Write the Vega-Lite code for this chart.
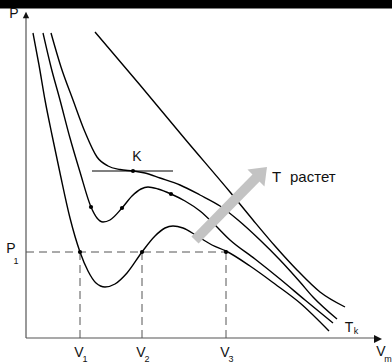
{
  "$schema": "https://vega.github.io/schema/vega-lite/v6.json",
  "width": 392,
  "height": 363,
  "autosize": {"type": "none"},
  "padding": 0,
  "background": "white",
  "config": {"view": {"stroke": null}},
  "datasets": {
    "curves": [
      {"c":"A","o":0,"V":7,"P":305},{"c":"A","o":1,"V":13,"P":273},{"c":"A","o":2,"V":19,"P":238},{"c":"A","o":3,"V":26,"P":203},{"c":"A","o":4,"V":34,"P":165},{"c":"A","o":5,"V":44,"P":120},{"c":"A","o":6,"V":54,"P":86},{"c":"A","o":7,"V":62,"P":67},{"c":"A","o":8,"V":70,"P":55},{"c":"A","o":9,"V":79,"P":51},{"c":"A","o":10,"V":89,"P":54},{"c":"A","o":11,"V":101,"P":65},{"c":"A","o":12,"V":116,"P":86},{"c":"A","o":13,"V":129,"P":102},{"c":"A","o":14,"V":139,"P":110},{"c":"A","o":15,"V":147,"P":112},{"c":"A","o":16,"V":157,"P":110},{"c":"A","o":17,"V":171,"P":102},{"c":"A","o":18,"V":186,"P":93},{"c":"A","o":19,"V":200,"P":87},{"c":"A","o":20,"V":224,"P":72},{"c":"A","o":21,"V":249,"P":54},{"c":"A","o":22,"V":274,"P":35},{"c":"A","o":23,"V":303,"P":7},
      {"c":"B","o":0,"V":17,"P":305},{"c":"B","o":1,"V":25,"P":271},{"c":"B","o":2,"V":34,"P":238},{"c":"B","o":3,"V":44,"P":200},{"c":"B","o":4,"V":54,"P":166},{"c":"B","o":5,"V":65,"P":131},{"c":"B","o":6,"V":71,"P":120},{"c":"B","o":7,"V":77,"P":116},{"c":"B","o":8,"V":84,"P":118},{"c":"B","o":9,"V":96,"P":130},{"c":"B","o":10,"V":106,"P":142},{"c":"B","o":11,"V":115,"P":149},{"c":"B","o":12,"V":122,"P":151},{"c":"B","o":13,"V":132,"P":149},{"c":"B","o":14,"V":145,"P":144},{"c":"B","o":15,"V":159,"P":137},{"c":"B","o":16,"V":174,"P":127},{"c":"B","o":17,"V":189,"P":113},{"c":"B","o":18,"V":204,"P":98},{"c":"B","o":19,"V":229,"P":79},{"c":"B","o":20,"V":254,"P":59},{"c":"B","o":21,"V":279,"P":38},{"c":"B","o":22,"V":307,"P":15},
      {"c":"C","o":0,"V":25,"P":305},{"c":"C","o":1,"V":35,"P":271},{"c":"C","o":2,"V":47,"P":238},{"c":"C","o":3,"V":59,"P":206},{"c":"C","o":4,"V":71,"P":181},{"c":"C","o":5,"V":82,"P":172},{"c":"C","o":6,"V":94,"P":168.5},{"c":"C","o":7,"V":107,"P":167},{"c":"C","o":8,"V":119,"P":165},{"c":"C","o":9,"V":134,"P":160},{"c":"C","o":10,"V":154,"P":153},{"c":"C","o":11,"V":174,"P":143},{"c":"C","o":12,"V":194,"P":132},{"c":"C","o":13,"V":212,"P":118},{"c":"C","o":14,"V":234,"P":98},{"c":"C","o":15,"V":254,"P":78},{"c":"C","o":16,"V":274,"P":56},{"c":"C","o":17,"V":287,"P":41},{"c":"C","o":18,"V":311,"P":19},
      {"c":"D","o":0,"V":69,"P":306},{"c":"D","o":1,"V":114,"P":253},{"c":"D","o":2,"V":159,"P":199},{"c":"D","o":3,"V":204,"P":146},{"c":"D","o":4,"V":227,"P":118},{"c":"D","o":5,"V":249,"P":92},{"c":"D","o":6,"V":271,"P":68},{"c":"D","o":7,"V":294,"P":46},{"c":"D","o":8,"V":319,"P":31}
    ],
    "dashes": [
      {"V":0,"P":86,"V2":200,"P2":86},
      {"V":54,"P":86,"V2":54,"P2":0},
      {"V":116,"P":86,"V2":116,"P2":0},
      {"V":200,"P":86,"V2":200,"P2":0}
    ],
    "axislines": [
      {"V":0,"P":0,"V2":0,"P2":322},
      {"V":0,"P":0,"V2":350,"P2":0}
    ],
    "band": [
      {"V":-26,"P":329.5,"V2":366,"P2":338}
    ],
    "tangent": [
      {"V":66,"P":167,"V2":147,"P2":167}
    ],
    "dots": [
      {"V":54,"P":86},{"V":116,"P":86},{"V":200,"P":86},
      {"V":65,"P":131},{"V":96,"P":130},{"V":145,"P":144},
      {"V":107,"P":167}
    ],
    "shaft": [
      {"V":169,"P":98,"V2":231,"P2":161}
    ],
    "head": [
      {"V":232.5,"P":162.5}
    ],
    "yarrow": [{"V":0,"P":323}],
    "xarrow": [{"V":352,"P":-1}],
    "big": [
      {"t":"P","V":-12,"P":324},
      {"t":"P","V":-15,"P":89},
      {"t":"V","V":53,"P":-15},
      {"t":"V","V":115,"P":-15},
      {"t":"V","V":199,"P":-15},
      {"t":"V","V":355,"P":-14},
      {"t":"T","V":323,"P":10},
      {"t":"K","V":111,"P":181}
    ],
    "small": [
      {"t":"1","V":-10,"P":77},
      {"t":"1","V":59,"P":-21},
      {"t":"2","V":121,"P":-21},
      {"t":"3","V":205,"P":-21},
      {"t":"m","V":362,"P":-21},
      {"t":"k","V":330,"P":7}
    ],
    "note": [
      {"t":"T","V":246,"P":161},
      {"t":"растет","V":264,"P":161}
    ]
  },
  "layer": [
    {
      "data": {"name": "axislines"},
      "mark": {"type": "rule", "strokeCap": "butt", "color": "#555555", "strokeWidth": 1.2},
      "encoding": {
        "x": {"field": "V", "type": "quantitative", "scale": {"domain": [-26, 366], "nice": false, "zero": false}, "axis": null},
        "y": {"field": "P", "type": "quantitative", "scale": {"domain": [-25, 338], "nice": false, "zero": false}, "axis": null},
        "x2": {"field": "V2"},
        "y2": {"field": "P2"}
      }
    },
    {
      "data": {"name": "band"},
      "mark": {"type": "rect", "color": "#000000", "opacity": 1},
      "encoding": {
        "x": {"field": "V", "type": "quantitative"},
        "y": {"field": "P", "type": "quantitative"},
        "x2": {"field": "V2"},
        "y2": {"field": "P2"}
      }
    },
    {
      "data": {"name": "yarrow"},
      "mark": {"type": "point", "shape": "M0,-1L1,1L-1,1Z", "size": 40, "filled": true, "color": "#111", "opacity": 1},
      "encoding": {
        "x": {"field": "V", "type": "quantitative"},
        "y": {"field": "P", "type": "quantitative"}
      }
    },
    {
      "data": {"name": "xarrow"},
      "mark": {"type": "point", "shape": "M1,0L-1,-1L-1,1Z", "size": 64, "filled": true, "color": "#111", "opacity": 1},
      "encoding": {
        "x": {"field": "V", "type": "quantitative"},
        "y": {"field": "P", "type": "quantitative"}
      }
    },
    {
      "data": {"name": "dashes"},
      "mark": {"type": "rule", "color": "#555", "strokeWidth": 1, "strokeDash": [8, 5]},
      "encoding": {
        "x": {"field": "V", "type": "quantitative"},
        "y": {"field": "P", "type": "quantitative"},
        "x2": {"field": "V2"},
        "y2": {"field": "P2"}
      }
    },
    {
      "data": {"name": "tangent"},
      "mark": {"type": "rule", "color": "black", "strokeWidth": 1},
      "encoding": {
        "x": {"field": "V", "type": "quantitative"},
        "y": {"field": "P", "type": "quantitative"},
        "x2": {"field": "V2"},
        "y2": {"field": "P2"}
      }
    },
    {
      "data": {"name": "curves"},
      "mark": {"type": "line", "color": "black", "strokeWidth": 1.4, "interpolate": "monotone"},
      "encoding": {
        "x": {"field": "V", "type": "quantitative"},
        "y": {"field": "P", "type": "quantitative"},
        "detail": {"field": "c"},
        "order": {"field": "o", "type": "quantitative"}
      }
    },
    {
      "data": {"name": "shaft"},
      "mark": {"type": "rule", "color": "#c3c3c3", "strokeWidth": 10, "strokeCap": "butt"},
      "encoding": {
        "x": {"field": "V", "type": "quantitative"},
        "y": {"field": "P", "type": "quantitative"},
        "x2": {"field": "V2"},
        "y2": {"field": "P2"}
      }
    },
    {
      "data": {"name": "head"},
      "mark": {"type": "point", "shape": "M0,-1L1,0.3L-1,0.3Z", "size": 576, "angle": 45, "filled": true, "color": "#c3c3c3", "opacity": 1},
      "encoding": {
        "x": {"field": "V", "type": "quantitative"},
        "y": {"field": "P", "type": "quantitative"}
      }
    },
    {
      "data": {"name": "dots"},
      "mark": {"type": "circle", "color": "black", "size": 18, "opacity": 1},
      "encoding": {
        "x": {"field": "V", "type": "quantitative"},
        "y": {"field": "P", "type": "quantitative"}
      }
    },
    {
      "data": {"name": "big"},
      "mark": {"type": "text", "font": "Liberation Sans", "fontSize": 14, "color": "#111", "align": "center", "baseline": "middle"},
      "encoding": {
        "x": {"field": "V", "type": "quantitative"},
        "y": {"field": "P", "type": "quantitative"},
        "text": {"field": "t"}
      }
    },
    {
      "data": {"name": "small"},
      "mark": {"type": "text", "font": "Liberation Sans", "fontSize": 9, "color": "#111", "align": "center", "baseline": "middle"},
      "encoding": {
        "x": {"field": "V", "type": "quantitative"},
        "y": {"field": "P", "type": "quantitative"},
        "text": {"field": "t"}
      }
    },
    {
      "data": {"name": "note"},
      "mark": {"type": "text", "font": "Liberation Sans", "fontSize": 15, "color": "#111", "align": "left", "baseline": "middle"},
      "encoding": {
        "x": {"field": "V", "type": "quantitative"},
        "y": {"field": "P", "type": "quantitative"},
        "text": {"field": "t"}
      }
    }
  ]
}
